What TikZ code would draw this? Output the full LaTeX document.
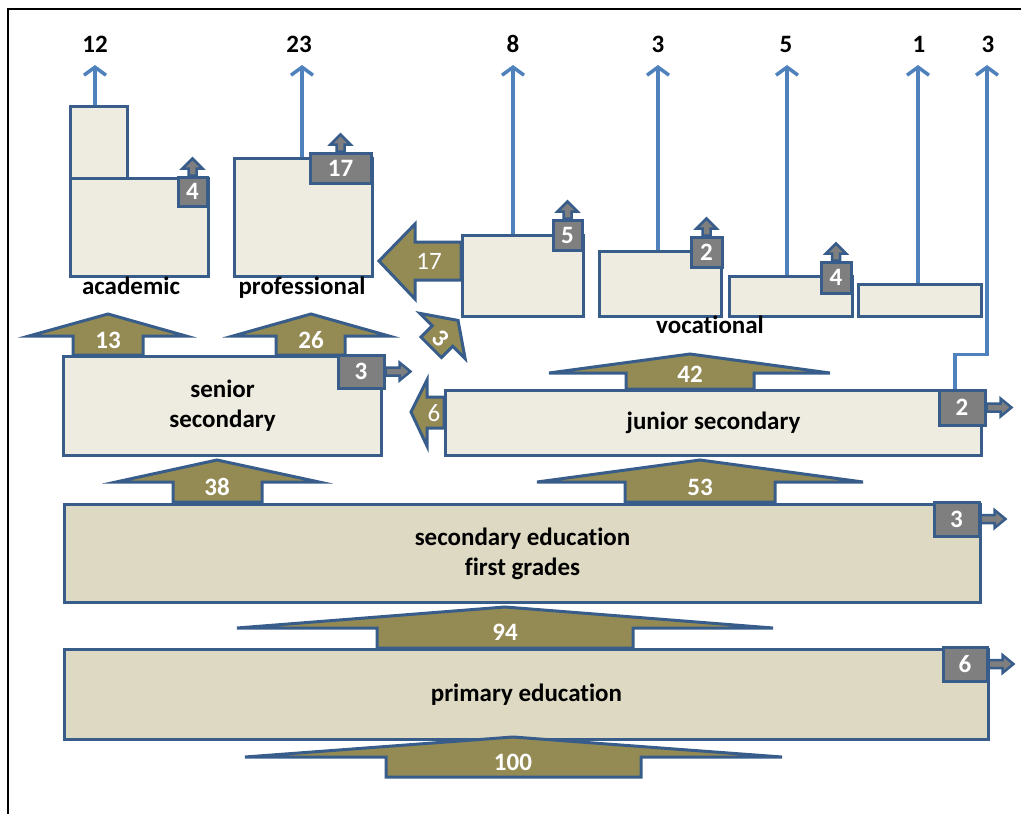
\documentclass[tikz,border=0pt]{standalone}
\usepackage{fontspec}
\setmainfont{Carlito}[Ligatures=NoCommon]
\usepackage{xcolor}
\usetikzlibrary{arrows.meta, positioning, calc}
\definecolor{boxline}{RGB}{56, 93, 138}
\definecolor{boxlight}{RGB}{238, 236, 225}
\definecolor{boxdark}{RGB}{221, 217, 195}
\definecolor{olivefill}{RGB}{148, 138, 84}
\definecolor{countgray}{RGB}{127, 127, 127}
\definecolor{flowblue}{RGB}{79, 129, 189}

\tikzset{
  stage/.style={rectangle, draw=boxline, line width=3pt, fill=boxlight, anchor=north west, inner sep=0pt, align=center, font=\bfseries\fontsize{25}{30}\selectfont},
  count/.style={rectangle, draw=boxline, line width=3pt, fill=countgray, text=white, inner sep=0pt, font=\bfseries\fontsize{25}{28}\selectfont},
  bigarrow/.style={draw=boxline, line width=3pt, fill=olivefill},
  num/.style={text=white, anchor=base, inner sep=0pt, font=\bfseries\fontsize{25}{30}\selectfont},
  thinnum/.style={text=white, anchor=base, inner sep=0pt, font=\fontsize{25}{30}\selectfont},
  tracklabel/.style={anchor=base, inner sep=0pt, font=\bfseries\fontsize{25}{30}\selectfont},
  flow/.style={draw=flowblue, line width=3.5pt, -{Straight Barb[length=8pt, width=22pt]}},
  rsmall/.pic={\draw[draw=boxline, line width=2.5pt, fill=countgray] (0,-4) -- (14,-4) -- (14,-9) -- (25,0) -- (14,9) -- (14,4) -- (0,4) -- cycle;},
  usmall/.pic={\draw[draw=boxline, line width=2.5pt, fill=countgray] (-4,0) -- (-4,-7) -- (-10,-7) -- (0,-17) -- (10,-7) -- (4,-7) -- (4,0) -- cycle;}
}

\begin{document}
\begin{tikzpicture}[x=1pt, y=-1pt]
    \useasboundingbox (0,0) rectangle (1021,814);
    \draw[line width=2.5pt] (8,814) -- (8,9) -- (1021,9);

    % school stages
    \node[stage, fill=boxdark, minimum width=924pt, minimum height=90pt] (primary) at (63,648) {primary education};
    \node[stage, fill=boxdark, minimum width=916pt, minimum height=98pt] (firstgr) at (63,503) {secondary education\\first grades};
    \node[stage, minimum width=318pt, minimum height=99pt] (senior) at (62,355) {senior\\secondary};
    \node[stage, minimum width=536pt, minimum height=65pt] (junior) at (444,389) {junior secondary};
    \node[stage, minimum width=57pt, minimum height=72pt] (acadtop) at (69,105) {};
    \node[stage, minimum width=138pt, minimum height=98pt] (acad) at (69,177) {};
    \node[stage, minimum width=138pt, minimum height=118pt] (prof) at (233,157) {};
    \node[stage, minimum width=121pt, minimum height=81pt] (voca) at (461,234) {};
    \node[stage, minimum width=122pt, minimum height=65pt] (vocb) at (598,250) {};
    \node[stage, minimum width=123pt, minimum height=40pt] (vocc) at (728,275) {};
    \node[stage, minimum width=123pt, minimum height=32pt] (vocd) at (857,283) {};

    \node[tracklabel] (acadlab) at (131,294) {academic};
    \node[tracklabel] (proflab) at (302,294) {professional};
    \node[tracklabel] (voclab) at (710,333) {vocational};

    % transfer arrows
    \draw[bigarrow] (386,777) -- (386,757) -- (245,757) -- (513,737) -- (782,757) -- (641,757) -- (641,777) -- cycle;
    \node[num] (n100) at (513,770) {100};
    \draw[bigarrow] (377,648) -- (377,628) -- (237,628) -- (505,607) -- (773,628) -- (633,628) -- (633,648) -- cycle;
    \node[num] (n94) at (505,640) {94};
    \draw[bigarrow] (173,502) -- (173,482) -- (116,482) -- (217,460) -- (319,482) -- (262,482) -- (262,502) -- cycle;
    \node[num] (n38) at (217,495) {38};
    \draw[bigarrow] (625,502) -- (625,482) -- (537,482) -- (700,460) -- (863,482) -- (775,482) -- (775,502) -- cycle;
    \node[num] (n53) at (700,495) {53};
    \draw[bigarrow] (73,355) -- (73,336) -- (29,336) -- (108,314) -- (186,336) -- (143,336) -- (143,355) -- cycle;
    \node[num] (n13) at (108,348) {13};
    \draw[bigarrow] (276,355) -- (276,336) -- (233,336) -- (311,314) -- (389,336) -- (345,336) -- (345,355) -- cycle;
    \node[num] (n26) at (311,348) {26};
    \draw[bigarrow] (626,389) -- (626,373) -- (549,373) -- (690,354) -- (830,373) -- (754,373) -- (754,389) -- cycle;
    \node[num] (n42) at (690,382) {42};
    \draw[bigarrow] (444,397) -- (427,397) -- (427,380) -- (411,412) -- (427,446) -- (427,428) -- (444,428) -- cycle;
    \node[thinnum] (n6) at (434,421) {6};
    \draw[bigarrow] (461,242) -- (415,242) -- (415,224) -- (379,261) -- (415,299) -- (415,280) -- (461,280) -- cycle;
    \node[thinnum] (n17) at (429,269) {17};
    \begin{scope}[shift={(442.5,336)}, rotate=-45]
        \draw[bigarrow] (-14.5,16) -- (-14.5,0) -- (-32,0) -- (0,-22) -- (32,0) -- (14.5,0) -- (14.5,16) -- cycle;
        \node[num, anchor=center, rotate=-45] (n3) at (0,3) {3};
    \end{scope}

    % drop-outs
    \node[count, minimum width=44pt, minimum height=34pt] (g6) at (965,664) {6};
    \node[count, minimum width=45pt, minimum height=34pt] (g3f) at (956.5,519) {3};
    \node[count, minimum width=46pt, minimum height=33pt] (g3s) at (361,371.5) {3};
    \node[count, minimum width=46pt, minimum height=35pt] (g2j) at (962,407.5) {2};
    \node[count, minimum width=29pt, minimum height=29pt] (g4a) at (192.5,191.5) {4};
    \node[count, minimum width=61pt, minimum height=30pt] (g17) at (340.5,168) {17};
    \node[count, minimum width=29pt, minimum height=30pt] (g5) at (567.5,235) {5};
    \node[count, minimum width=31pt, minimum height=30pt] (g2v) at (706.5,252) {2};
    \node[count, minimum width=30pt, minimum height=31pt] (g4v) at (836,277.5) {4};
    \pic at (g6.east) {rsmall};
    \pic at (g3f.east) {rsmall};
    \pic at (g3s.east) {rsmall};
    \pic at (g2j.east) {rsmall};
    \pic at (g4a.north) {usmall};
    \pic at (g17.north) {usmall};
    \pic at (g5.north) {usmall};
    \pic at (g2v.north) {usmall};
    \pic at (g4v.north) {usmall};

    % graduates
    \coordinate (t12) at (95,65);
    \coordinate (t23) at (302,65);
    \coordinate (t8) at (513,65);
    \coordinate (t3) at (658,65);
    \coordinate (t5) at (787,65);
    \coordinate (t1) at (918,65);
    \coordinate (t3r) at (987,65);
    \node[tracklabel] (l12) at (95,52) {12};
    \node[tracklabel] (l23) at (299,52) {23};
    \node[tracklabel] (l8) at (513,52) {8};
    \node[tracklabel] (l3) at (658,52) {3};
    \node[tracklabel] (l5) at (786,52) {5};
    \node[tracklabel] (l1) at (919,52) {1};
    \node[tracklabel] (l3r) at (988,52) {3};
    \draw[flow] (t12 |- acadtop.north) -- (t12);
    \draw[flow] (t23 |- prof.north) -- (t23);
    \draw[flow] (t8 |- voca.north) -- (t8);
    \draw[flow] (t3 |- vocb.north) -- (t3);
    \draw[flow] (t5 |- vocc.north) -- (t5);
    \draw[flow] (t1 |- vocd.north) -- (t1);
    \draw[flow] ([xshift=-7pt]g2j.north) -- ++(0,-34) -| (t3r);
\end{tikzpicture}
\end{document}
